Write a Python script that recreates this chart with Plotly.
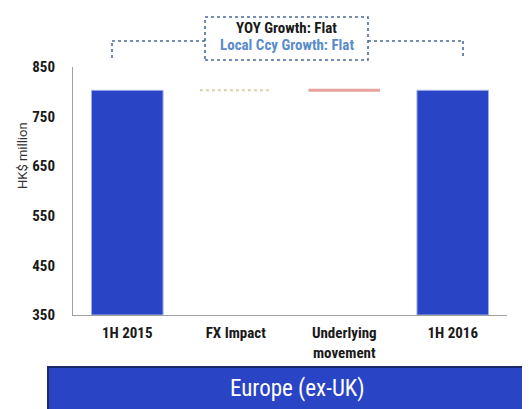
import plotly.graph_objects as go

categories = ["1H 2015", "FX Impact", "Underlying<br>movement", "1H 2016"]
values = [803, 0, 0, 803]          # HK$ million; middle steps are ~flat
kinds = ["total", "delta", "delta", "total"]
y_ticks = [350, 450, 550, 650, 750, 850]
title_lines = ["YOY Growth: Flat", "Local Ccy Growth: Flat"]
y_title = "HK$ million"
banner = "Europe (ex-UK)"

FONT = "Roboto Condensed, DejaVu Sans Condensed, sans-serif"
BAR = "#2a44c6"
BW = 0.66

fig = go.Figure()
xs = list(range(len(categories)))

tot_x = [i for i, k in zip(xs, kinds) if k == "total"]
tot_y = [v for v, k in zip(values, kinds) if k == "total"]
fig.add_trace(go.Bar(x=tot_x, y=[v - 350 for v in tot_y], base=350, width=BW,
                     marker=dict(color=BAR, line=dict(color="#9fb0ee", width=1)),
                     hoverinfo="skip", showlegend=False))

level = values[0]
styles = [dict(color="#d8d2a8", width=2, dash="dot"), dict(color="#e8a3a0", width=3, dash="solid")]
di = 0
for i, (v, k) in enumerate(zip(values, kinds)):
    if k == "delta":
        level += v
        fig.add_trace(go.Scatter(x=[i - BW / 2, i + BW / 2], y=[level, level], mode="lines",
                                 line=styles[di % 2], hoverinfo="skip", showlegend=False))
        di += 1

# page body has an 8px margin, so the figure is sized/offset to compensate
fig.update_layout(
    width=522, height=401,
    margin=dict(l=65, r=23, t=59, b=94),
    paper_bgcolor="white", plot_bgcolor="white",
    font=dict(family=FONT, color="#1a1a1a"),
    xaxis=dict(range=[-0.5, 3.5], tickmode="array", tickvals=xs,
               ticktext=["<b>" + c.replace("<br>", "</b><br><b>") + "</b>" for c in categories],
               showline=True, linecolor="#a0a0a0", linewidth=1, ticks="", showgrid=False,
               zeroline=False, automargin=False, ticklabelstandoff=4,
               tickfont=dict(size=15, family=FONT, color="#1a1a1a")),
    yaxis=dict(range=[350, 850], tickmode="array", tickvals=y_ticks,
               ticktext=["<b>%d</b>" % t for t in y_ticks], showline=True,
               linecolor="#a0a0a0", linewidth=1, ticks="", showgrid=False, zeroline=False,
               automargin=False,
               tickfont=dict(size=15, family=FONT, color="#1a1a1a"), ticklabelstandoff=14),
)

def px2x(p): return (p - 73) / 434
def py2y(p): return (315 - p) / 248

def note(x, y, text, font, angle=0):
    fig.add_annotation(xref="paper", yref="paper", x=x, y=y, text=text, textangle=angle,
                       xanchor="center", yanchor="middle", showarrow=False, font=font)

note(px2x(22), py2y(156), y_title, dict(size=13, family="Roboto, sans-serif", color="#333"), -90)

lc = dict(color="#4a6a9c", width=1.6, dash="dot")
x_left = px2x(112); x_right = px2x(463)
bx0, bx1 = px2x(205), px2x(368)
by0, by1 = py2y(60), py2y(17)
y_low, y_mid = py2y(58), py2y(41)
for (x0, y0, x1, y1) in [(x_left, y_low, x_left, y_mid), (x_left, y_mid, bx0, y_mid),
                         (bx1, y_mid, x_right, y_mid), (x_right, y_mid, x_right, y_low)]:
    fig.add_shape(type="line", xref="paper", yref="paper", x0=x0, y0=y0, x1=x1, y1=y1, line=lc)
fig.add_shape(type="rect", xref="paper", yref="paper", x0=bx0, y0=by0, x1=bx1, y1=by1,
              line=lc, fillcolor="white")
note((bx0 + bx1) / 2, py2y(28), "<b>" + title_lines[0] + "</b>", dict(size=15, color="#1a1a1a", family=FONT))
note((bx0 + bx1) / 2, py2y(45), "<b>" + title_lines[1] + "</b>", dict(size=15, color="#5a8ccb", family=FONT))

fig.add_shape(type="rect", xref="paper", yref="paper", x0=px2x(48), x1=px2x(529), y0=py2y(367), y1=py2y(410),
              line=dict(color="#1b2a6b", width=2), fillcolor="#2a44c6")
note(px2x(297), py2y(388), banner, dict(size=23, color="white", family=FONT))

fig.write_html("out.html")
